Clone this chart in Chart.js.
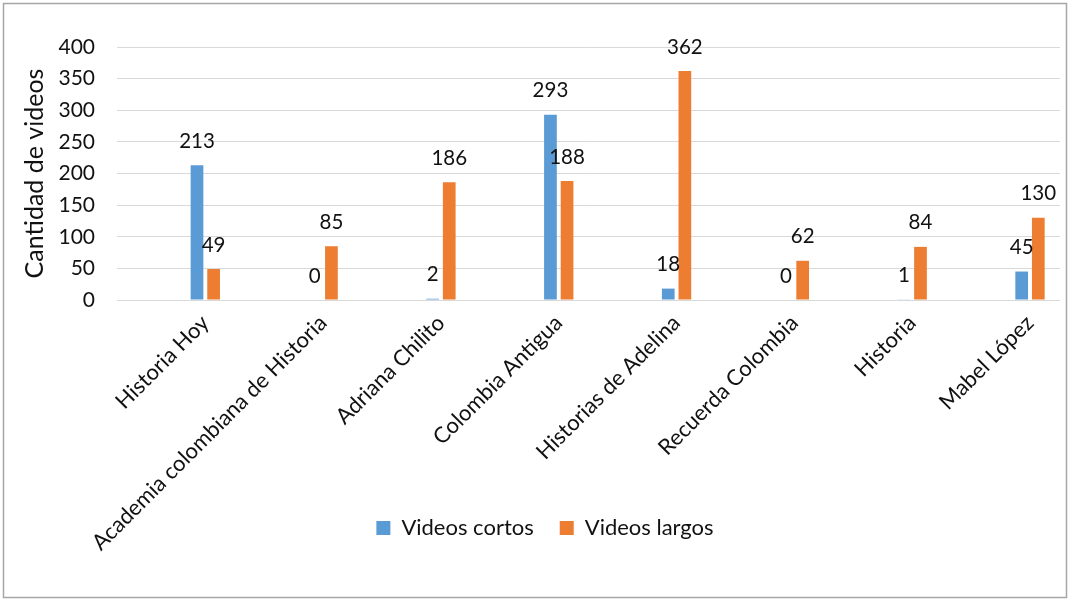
<!DOCTYPE html>
<html>
<head>
<meta charset="utf-8">
<script src="https://cdn.jsdelivr.net/npm/chart.js@4"></script>
<style>
  html, body { margin: 0; padding: 0; background: #fff; }
  #wrap { position: absolute; left: 0; top: 0; width: 1069px; height: 604px; }
</style>
</head>
<body>
<div id="wrap"><canvas id="c"></canvas></div>
<script>
const categories = ["Historia Hoy", "Academia colombiana de Historia", "Adriana Chilito", "Colombia Antigua", "Historias de Adelina", "Recuerda Colombia", "Historia", "Mabel López"];
const videosCortos = [213, 0, 2, 293, 18, 0, 1, 45];
const videosLargos = [49, 85, 186, 188, 362, 62, 84, 130];
const yTicks = [0, 50, 100, 150, 200, 250, 300, 350, 400];

const FONT = "Lato, 'Open Sans', sans-serif";
const TXT = "#111";
const LEGEND_PAD = 26;

const toPoints = arr => arr.map((v, i) => ({ x: i, y: v }));

const dataLabels = {
  id: 'dataLabels',
  afterDatasetsDraw(chart) {
    const ctx = chart.ctx;
    ctx.save();
    ctx.font = "20.5px " + FONT;
    ctx.fillStyle = TXT;
    ctx.textAlign = 'center';
    ctx.textBaseline = 'middle';
    chart.data.datasets.forEach((ds, di) => {
      const meta = chart.getDatasetMeta(di);
      meta.data.forEach((el, i) => {
        ctx.fillText(String(ds.data[i].y), el.x, el.y - 24);
      });
    });
    ctx.restore();
  }
};

const layoutFix = {
  id: 'layoutFix',
  afterLayout(chart) {
    // let rotated category labels extend below the axis box (no clipping)
    chart.scales.x.bottom = chart.height;
    // nudge legend to the right like the reference
    if (chart.legend) {
      chart.legend.left += 15;
      chart.legend.right += 15;
    }
  }
};

const frame = {
  id: 'frame',
  afterDraw(chart) {
    const ctx = chart.ctx;
    ctx.save();
    ctx.strokeStyle = '#a6a6a6';
    ctx.lineWidth = 1.5;
    ctx.strokeRect(3.5, 3.5, 1063, 594);
    ctx.restore();
  }
};

new Chart(document.getElementById('c'), {
  type: 'bar',
  data: {
    datasets: [
      { label: 'Videos cortos', data: toPoints(videosCortos), backgroundColor: '#5B9BD5', categoryPercentage: 0.282, barPercentage: 0.765 },
      { label: 'Videos largos', data: toPoints(videosLargos), backgroundColor: '#ED7D31', categoryPercentage: 0.282, barPercentage: 0.765 }
    ]
  },
  options: {
    responsive: true,
    maintainAspectRatio: false,
    animation: false,
    devicePixelRatio: 1,
    layout: { padding: { left: 0, right: 9, top: 47, bottom: 55 } },
    plugins: {
      legend: {
        position: 'bottom',
        labels: {
          font: { family: FONT, size: 22 },
          color: TXT,
          boxWidth: 14,
          boxHeight: 14,
          padding: LEGEND_PAD
        }
      },
      tooltip: { enabled: false }
    },
    scales: {
      x: {
        type: 'linear',
        offset: false,
        min: -0.7496,
        max: 7.2547,
        grid: { display: false, drawTicks: false, offset: false },
        border: { display: false },
        ticks: {
          stepSize: 1,
          includeBounds: false,
          autoSkip: false,
          minRotation: 45,
          maxRotation: 45,
          padding: 10,
          font: { family: FONT, size: 22 },
          color: TXT,
          callback: v => Number.isInteger(v) && categories[v] !== undefined ? categories[v] : ''
        },
        afterFit(scale) {
          scale.height = 217 - LEGEND_PAD;
          scale.paddingLeft = 0;
          scale.paddingRight = 0;
        }
      },
      y: {
        min: yTicks[0],
        max: yTicks[yTicks.length - 1],
        grid: { color: '#d9d9d9', lineWidth: 1, drawTicks: false },
        border: { display: false },
        ticks: {
          stepSize: yTicks[1] - yTicks[0],
          padding: 22,
          font: { family: FONT, size: 21 },
          color: TXT
        },
        title: {
          display: true,
          text: 'Cantidad de videos',
          font: { family: FONT, size: 25 },
          color: TXT,
          padding: { top: 20, bottom: 0 }
        },
        afterFit(scale) {
          scale.width = 117;
        }
      }
    }
  },
  plugins: [dataLabels, layoutFix, frame]
});
</script>
</body>
</html>
